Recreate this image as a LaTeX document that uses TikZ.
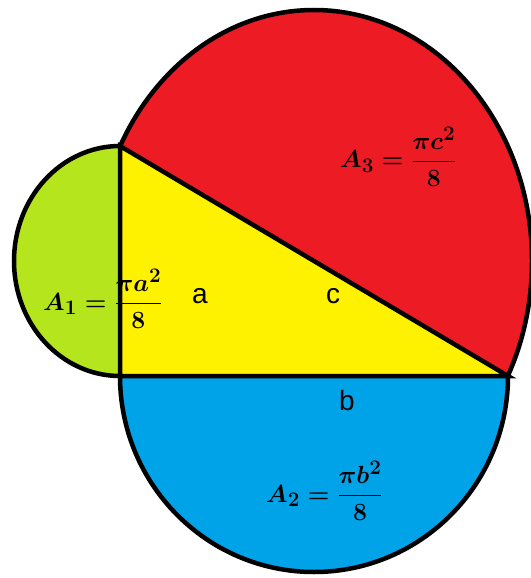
\documentclass[tikz,border=0pt]{standalone}
\usepackage{fontspec}
\newfontfamily\labelfont{Liberation Sans}
\usepackage{amsmath}
\definecolor{pgreen}{RGB}{181,230,29}
\definecolor{pred}{RGB}{237,28,36}
\definecolor{pyellow}{RGB}{255,242,0}
\definecolor{pblue}{RGB}{0,162,232}
\begin{document}
\begin{tikzpicture}[x=1bp,y=-1bp,
  outline/.style={draw=black,line width=4.5bp},
  formula/.style={inner sep=0pt,anchor=base west,font=\fontsize{28bp}{32bp}\selectfont\boldmath},
  sidelabel/.style={inner sep=0pt,font=\labelfont\fontsize{28bp}{32bp}\selectfont}]
\useasboundingbox (0,0) rectangle (531,578);
\coordinate (TL) at (120,146);
\coordinate (BL) at (120,376);
\coordinate (BR) at (508,376);
% red semi-ellipse on hypotenuse
\begin{scope}
  \clip (-268,-84) -- (896,606) -- (896,-600) -- (-268,-600) -- cycle;
  \fill[pred] (314,261) ellipse [x radius=218, y radius=251];
  \draw[outline] (314,261) ellipse [x radius=218, y radius=251];
\end{scope}
% green semi-ellipse on side a
\begin{scope}
  \clip (-100,-100) rectangle (120,700);
  \fill[pgreen] (120,261) ellipse [x radius=106, y radius=115];
  \draw[outline] (120,261) ellipse [x radius=106, y radius=115];
\end{scope}
% blue semi-ellipse on side b
\begin{scope}
  \clip (-100,376) rectangle (700,700);
  \fill[pblue] (314,376) ellipse [x radius=194, y radius=196];
  \draw[outline] (314,376) ellipse [x radius=194, y radius=196];
\end{scope}
% triangle
\fill[pyellow] (TL) -- (BL) -- (BR) -- cycle;
\draw[outline] (TL) -- (BL) -- (BR) -- cycle;
% formulas
\node[formula] (f1) at (43,310) {$A_1=\dfrac{\pi a^2}{8}$};
\node[formula] (f3) at (340,168) {$A_3=\dfrac{\pi c^2}{8}$};
\node[formula] (f2) at (266,502) {$A_2=\dfrac{\pi b^2}{8}$};
% side labels
\node[sidelabel] (la) at (200,296) {a};
\node[sidelabel] (lc) at (333,296) {c};
\node[sidelabel] (lb) at (347,400) {b};
\end{tikzpicture}
\end{document}
